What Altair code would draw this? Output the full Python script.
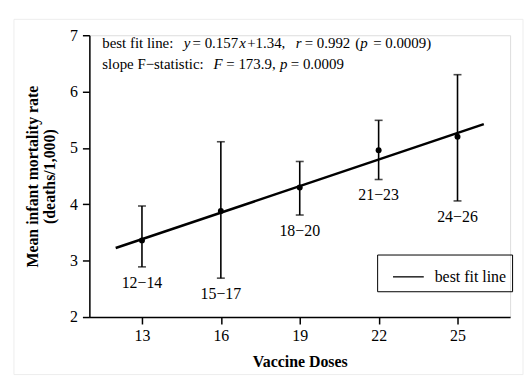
import altair as alt
import pandas as pd

# ---- data ----
doses = [13, 16, 19, 22, 25]
groups = ["12\u221214", "15\u221217", "18\u221220", "21\u221223", "24\u221226"]
means = [3.36, 3.88, 4.30, 4.96, 5.20]
lower = [2.89, 2.69, 3.81, 4.44, 4.06]
upper = [3.97, 5.11, 4.76, 5.49, 6.30]

fit_x = [12, 26]
slope = 0.157
intercept = 1.34

x_ticks = [13, 16, 19, 22, 25]
y_ticks = [2, 3, 4, 5, 6, 7]

FONT = "Liberation Serif"

df = pd.DataFrame({"dose": doses, "group": groups, "mean": means,
                   "lo": lower, "hi": upper})
fit = pd.DataFrame({"dose": fit_x, "series": ["best fit line"] * len(fit_x)})

W, H = 424, 284

xscale = alt.Scale(domain=[11, 27], nice=False, zero=False)
yscale = alt.Scale(domain=[2, 7], nice=False, zero=False)

xaxis = alt.Axis(values=x_ticks, title="Vaccine Doses", grid=False, format="d",
                 domainColor="black", domainWidth=1.5, tickColor="black",
                 tickWidth=1.5, tickSize=7, labelFont=FONT, labelFontSize=16,
                 labelColor="black", labelPadding=4, titleFont=FONT,
                 titleFontSize=16, titleFontWeight="bold", titleColor="black",
                 titlePadding=10, labelFlush=False)
yaxis = alt.Axis(values=y_ticks, title=["Mean infant mortality rate", "(deaths/1,000)"],
                 format="d", grid=False, domainColor="black", domainWidth=1.5,
                 tickColor="black", tickWidth=1.5, tickSize=7, labelFont=FONT,
                 labelFontSize=16, labelColor="black", labelPadding=5,
                 titleFont=FONT, titleFontSize=16, titleFontWeight="bold",
                 titleColor="black", titlePadding=12, titleLineHeight=17,
                 labelFlush=False)

base = alt.Chart(df)

line = alt.Chart(fit).mark_line(strokeWidth=2.5).transform_calculate(
    fy=f"{slope} * datum.dose + {intercept}"
).encode(
    x=alt.X("dose:Q", scale=xscale, axis=xaxis),
    y=alt.Y("fy:Q", scale=yscale, axis=yaxis),
    color=alt.Color("series:N", scale=alt.Scale(range=["black"]),
                    legend=alt.Legend(title=None, orient="none", legendX=290,
                                      legendY=221, strokeColor="black",
                                      padding=6, symbolType="stroke",
                                      symbolSize=961, symbolStrokeWidth=1.3,
                                      symbolOffset=9, labelOffset=10,
                                      labelExpr="datum.label + '   '",
                                      labelFont=FONT, labelFontSize=16,
                                      labelColor="black")),
)

rules = base.mark_rule(color="black", strokeWidth=1.6).encode(
    x=alt.X("dose:Q", scale=xscale), y=alt.Y("lo:Q", scale=yscale), y2="hi:Q")
cap_lo = base.mark_tick(color="black", orient="horizontal", size=8,
                        thickness=1.6).encode(
    x=alt.X("dose:Q", scale=xscale), y=alt.Y("lo:Q", scale=yscale))
cap_hi = base.mark_tick(color="black", orient="horizontal", size=8,
                        thickness=1.6).encode(
    x=alt.X("dose:Q", scale=xscale), y=alt.Y("hi:Q", scale=yscale))
pts = base.mark_circle(color="black", size=36, opacity=1).encode(
    x=alt.X("dose:Q", scale=xscale), y=alt.Y("mean:Q", scale=yscale))
labels = base.mark_text(font=FONT, fontSize=16, color="black", baseline="top",
                        dy=8).encode(
    x=alt.X("dose:Q", scale=xscale), y=alt.Y("lo:Q", scale=yscale),
    text="group:N")

# annotation text (segments so that the variables can be italic);
# pixel offsets are relative to the plot's top-left corner
L1, L2 = 8, 29
ann_segments = [
    ("best fit line:", 13, L1, "normal"),
    ("y", 95, L1, "italic"),
    ("= 0.157", 104, L1, "normal"),
    ("x", 151, L1, "italic"),
    ("+1.34,", 159, L1, "normal"),
    ("r", 208, L1, "italic"),
    ("= 0.992", 217, L1, "normal"),
    ("(", 268, L1, "normal"),
    ("p", 273, L1, "italic"),
    ("= 0.0009)", 286, L1, "normal"),
    ("slope F\u2212statistic:", 13, L2, "normal"),
    ("F", 125, L2, "italic"),
    ("= 173.9,", 138, L2, "normal"),
    ("p", 192, L2, "italic"),
    ("= 0.0009", 203, L2, "normal"),
]
ann_layers = []
for txt, px, py, style in ann_segments:
    ann_layers.append(
        alt.Chart(alt.Data(values=[{}])).mark_text(
            text=txt, font=FONT, fontSize=15, color="black", align="left",
            baseline="middle", fontStyle=style
        ).encode(x=alt.value(px), y=alt.value(py))
    )

frame = alt.Chart(alt.Data(values=[{}])).mark_rect(
    filled=False, stroke="#ededed", strokeWidth=1
).encode(x=alt.value(-76), x2=alt.value(437), y=alt.value(-16), y2=alt.value(342))

chart = alt.layer(frame, line, rules, cap_lo, cap_hi, pts, labels,
                  *ann_layers).properties(
    width=W, height=H,
    autosize=alt.AutoSizeParams(type="none"),
    padding={"left": 82, "top": 26, "right": 14, "bottom": 60},
).configure_view(stroke=None).configure(background="white")

chart.save("out.html", embed_options={"renderer": "svg", "actions": False})
